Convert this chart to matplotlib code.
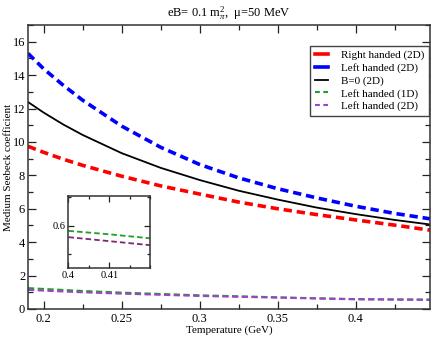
import matplotlib
matplotlib.use("Agg")
import matplotlib.pyplot as plt
from matplotlib.lines import Line2D
from matplotlib.ticker import MultipleLocator

plt.rcParams['font.family'] = ['Liberation Serif', 'DejaVu Serif']
plt.rcParams['mathtext.fontset'] = 'custom'
plt.rcParams['mathtext.rm'] = 'Liberation Serif'
plt.rcParams['mathtext.it'] = 'Liberation Serif:italic'
plt.rcParams['lines.scale_dashes'] = False

# Temperature grid (GeV)
T = [0.19, 0.2, 0.2125, 0.225, 0.25, 0.275, 0.3, 0.325, 0.35, 0.375, 0.4, 0.425, 0.4475]

right_2d = [9.74, 9.38, 8.97, 8.6, 7.95, 7.37, 6.88, 6.4, 6.0, 5.65, 5.33, 5.02, 4.72]
left_2d = [15.3, 14.38, 13.4, 12.5, 10.95, 9.68, 8.65, 7.85, 7.2, 6.65, 6.15, 5.72, 5.4]
b0_2d = [12.39, 11.76, 11.05, 10.42, 9.33, 8.45, 7.72, 7.08, 6.55, 6.07, 5.68, 5.33, 5.06]
left_1d = [1.25, 1.2, 1.14, 1.08, 0.98, 0.9, 0.82, 0.76, 0.7, 0.64, 0.591, 0.575, 0.56]
left_2d_low = [1.15, 1.1, 1.05, 1.0, 0.92, 0.85, 0.78, 0.73, 0.68, 0.63, 0.58, 0.563, 0.55]

labels = ['Right handed (2D)', 'Left handed (2D)', 'B=0 (2D)',
          'Left handed (1D)', 'Left handed (2D)']

# inset (zoom around T = 0.4)
T_inset = [0.4, 0.41, 0.42]
left_1d_inset = [0.591, 0.585, 0.578]
left_2d_inset = [0.58, 0.573, 0.566]

RED, BLUE, GREEN, PURPLE = '#ff0000', '#0000ff', '#20a020', '#a040d0'


def style_ticks(ax, major, minor, size):
    ax.tick_params(which='both', direction='in', top=True, right=True,
                   labelsize=size, width=0.9, colors='#222222', labelcolor='black')
    ax.tick_params(which='major', length=major)
    ax.tick_params(which='minor', length=minor)
    for sp in ax.spines.values():
        sp.set_linewidth(1.1)
        sp.set_color('#333333')


fig = plt.figure(figsize=(4.36, 3.37), dpi=100)
ax = fig.add_axes([0.0642, 0.0831, 0.9218, 0.8427])

ax.plot(T, right_2d, color=RED, lw=2.6, dashes=(6, 3.5))
ax.plot(T, left_2d, color=BLUE, lw=2.6, dashes=(6, 3.5))
ax.plot(T, b0_2d, color='black', lw=1.3)
ax.plot(T, left_1d, color=GREEN, lw=1.5, dashes=(4.5, 2.5))
ax.plot(T, left_2d_low, color=PURPLE, lw=1.5, dashes=(4.5, 2.5))

ax.set_xlim(0.19, 0.4475)
ax.set_ylim(0, 17)
ax.xaxis.set_minor_locator(MultipleLocator(0.025))
ax.yaxis.set_major_locator(MultipleLocator(2))
ax.yaxis.set_minor_locator(MultipleLocator(1))
ax.set_xticks([0.2, 0.25, 0.3, 0.35, 0.4])
ax.set_xticklabels(['0.2', '0.25', '0.3', '0.35', '0.4'])
style_ticks(ax, 5.5, 3.5, 9)
ax.tick_params(axis='x', pad=3)
ax.tick_params(axis='y', pad=2)

ax.set_xlabel('Temperature (GeV)', fontsize=8, labelpad=0)
ax.set_ylabel('Medium Seebeck coefficient', fontsize=8, labelpad=0)
ax.set_title(r'eB= 0.1 m$_{\pi}^{2}$,  μ=50 MeV', fontsize=9, pad=6)

# legend proxies: short handles like the original
handles = [
    Line2D([], [], color=RED, lw=2.6),
    Line2D([], [], color=BLUE, lw=2.6),
    Line2D([], [], color='black', lw=1.3),
    Line2D([], [], color=GREEN, lw=1.5, dashes=(3.5, 2.5)),
    Line2D([], [], color=PURPLE, lw=1.5, dashes=(3.5, 2.5)),
]
leg = ax.legend(handles, labels, loc='upper right', bbox_to_anchor=(0.998, 0.927),
                fontsize=8, fancybox=False, framealpha=1, edgecolor='#444444',
                handlelength=1.2, handletextpad=1.2, labelspacing=0.25,
                borderpad=0.4, borderaxespad=0)
leg.get_frame().set_linewidth(1.0)

# inset
axi = fig.add_axes([0.157, 0.2047, 0.187, 0.2137])
axi.plot(T_inset, left_1d_inset, color=GREEN, lw=1.3, dashes=(4, 2.2))
axi.plot(T_inset, left_2d_inset, color='#7a2a70', lw=1.3, dashes=(4, 2.2))
axi.set_xlim(0.4, 0.42)
axi.set_ylim(0.526, 0.652)
axi.set_xticks([0.4, 0.41])
axi.set_xticklabels(['0.4', '0.41'])
axi.xaxis.set_minor_locator(MultipleLocator(0.005))
axi.set_yticks([0.6])
axi.set_yticklabels(['0.6'])
axi.yaxis.set_minor_locator(MultipleLocator(0.05))
style_ticks(axi, 4, 2.5, 7.5)
axi.tick_params(pad=2)

fig.savefig('out.png', dpi=100)
